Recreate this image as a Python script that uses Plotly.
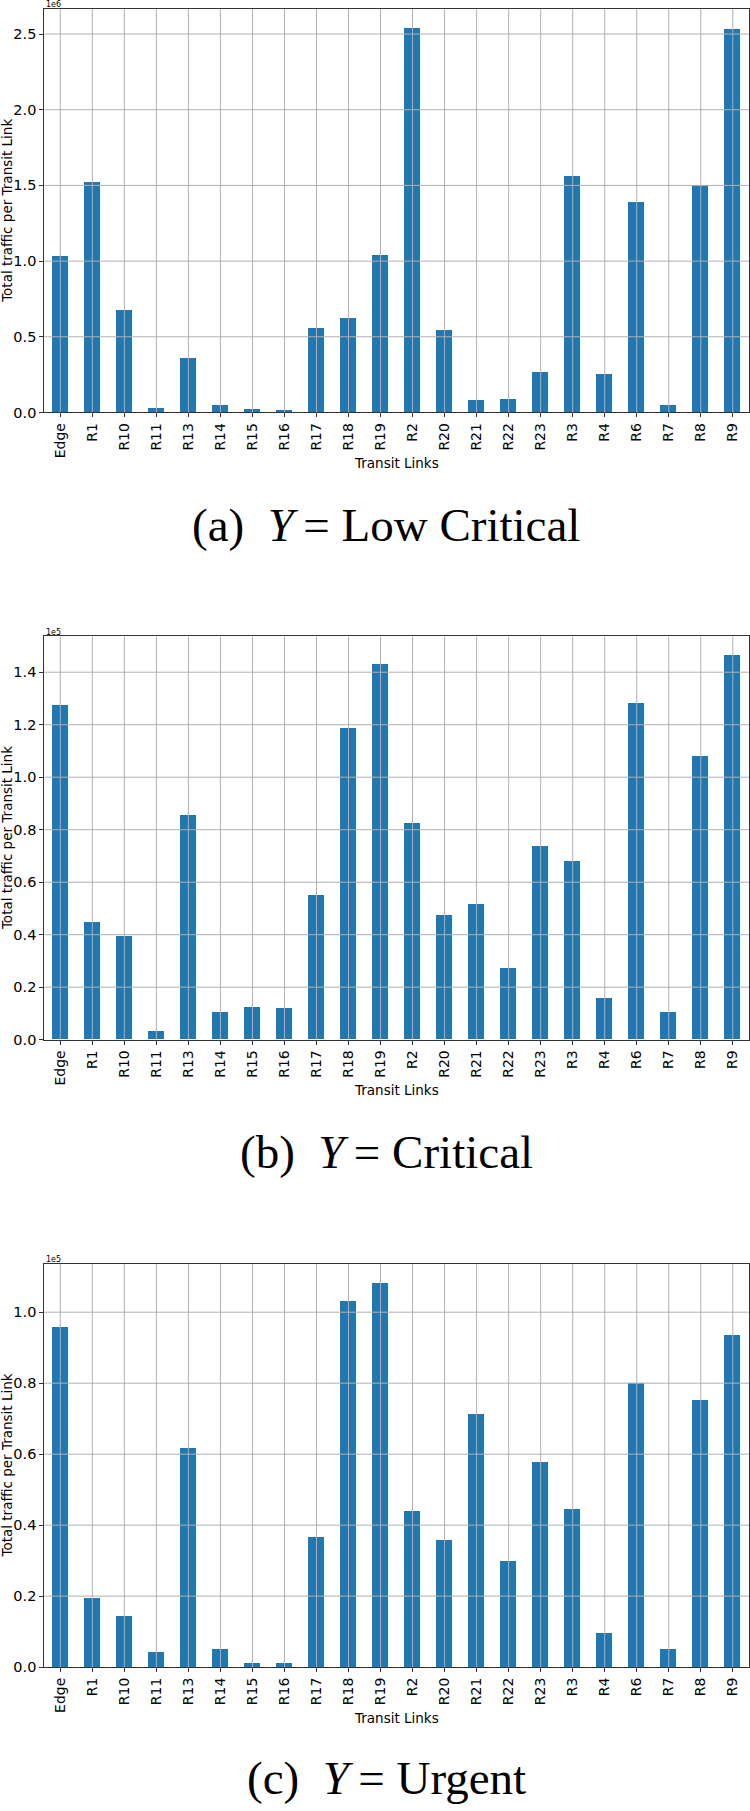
import plotly.graph_objects as go

# ---------------- data ----------------
links = ["Edge", "R1", "R10", "R11", "R13", "R14", "R15", "R16", "R17", "R18", "R19",
         "R2", "R20", "R21", "R22", "R23", "R3", "R4", "R6", "R7", "R8", "R9"]

# (a) Low Critical, in units of 1e6
low_critical = [1.033, 1.524, 0.678, 0.030, 0.355, 0.048, 0.024, 0.017, 0.557, 0.625, 1.039,
                2.537, 0.541, 0.081, 0.090, 0.267, 1.561, 0.252, 1.388, 0.048, 1.500, 2.533]
# (b) Critical, in units of 1e5
critical = [1.272, 0.448, 0.395, 0.030, 0.855, 0.102, 0.121, 0.119, 0.551, 1.184, 1.431,
            0.822, 0.472, 0.517, 0.272, 0.736, 0.680, 0.158, 1.282, 0.102, 1.080, 1.463]
# (c) Urgent, in units of 1e5
urgent = [0.958, 0.195, 0.145, 0.043, 0.619, 0.052, 0.013, 0.012, 0.368, 1.033, 1.082,
          0.439, 0.358, 0.713, 0.300, 0.577, 0.445, 0.095, 0.800, 0.052, 0.754, 0.937]

series = [low_critical, critical, urgent]
multipliers = ["1e6", "1e5", "1e5"]
tick_steps = [0.5, 0.2, 0.2]
captions = ["(a)  <i>Y</i>\u2009= Low Critical", "(b)  <i>Y</i>\u2009= Critical", "(c)  <i>Y</i>\u2009= Urgent"]
x_title = "Transit Links"
y_title = "Total traffic per Transit Link"

# ---------------- layout ----------------
W, H = 750, 1811
ax_left, ax_right = 44.3, 748.8
panel_tops = [9.3, 639.3, 1269.5]
panel_h = 405.0
caption_mid = [527, 1157, 1786]

BAR = "#1f77b4"
GRID = "#b0b0b0"
SPINE = "#333333"
FONT = "DejaVu Sans"


def py(px):
    return 1 - px / H


def pxx(px):
    return px / W


fig = go.Figure()
annotations = []
shapes = []

for i, vals in enumerate(series):
    n = i + 1
    xa = "x" if n == 1 else f"x{n}"
    ya = "y" if n == 1 else f"y{n}"
    top = panel_tops[i]
    bot = top + panel_h
    ymax = max(vals) * 1.05

    fig.add_trace(go.Bar(x=links, y=vals, width=0.5, marker=dict(color=BAR, line=dict(width=0)),
                         xaxis=xa, yaxis=ya, showlegend=False))

    xkey = "xaxis" if n == 1 else f"xaxis{n}"
    ykey = "yaxis" if n == 1 else f"yaxis{n}"
    fig.layout[xkey] = dict(
        domain=[pxx(ax_left), pxx(ax_right)], anchor=ya,
        type="category", categoryorder="array", categoryarray=links,
        range=[-0.5, len(links) - 0.5],
        showgrid=False, showline=True, mirror=True, linecolor=SPINE, linewidth=1,
        ticks="outside", ticklen=4, tickcolor=SPINE, tickangle=-90,
        tickfont=dict(family=FONT, size=14, color="black"),
    )
    fig.layout[ykey] = dict(
        domain=[py(bot), py(top)], anchor=xa,
        range=[0, ymax], dtick=tick_steps[i], tick0=0, tickformat=".1f",
        showgrid=False, zeroline=False, showline=True, mirror=True, linecolor=SPINE, linewidth=1,
        ticks="outside", ticklen=4, tickcolor=SPINE,
        tickfont=dict(family=FONT, size=14.5, color="black"),
    )

    # grid lines drawn above the bars (matplotlib default z-order)
    for c in links:
        shapes.append(dict(type="line", xref=xa, yref=f"{ya} domain", x0=c, x1=c, y0=0, y1=1,
                           line=dict(color=GRID, width=1), layer="above"))
    k = 1
    while k * tick_steps[i] < ymax:
        v = k * tick_steps[i]
        shapes.append(dict(type="line", xref=f"{xa} domain", yref=ya, x0=0, x1=1, y0=v, y1=v,
                           line=dict(color=GRID, width=1), layer="above"))
        k += 1

    # offset text (1e6 / 1e5)
    annotations.append(dict(text=multipliers[i], xref="paper", yref="paper",
                            x=pxx(ax_left), y=py(top - 4.3), xanchor="left", yanchor="middle",
                            showarrow=False, font=dict(family=FONT, size=8, color="black")))
    # y title
    annotations.append(dict(text=y_title, xref="paper", yref="paper", textangle=-90,
                            x=pxx(7), y=py(top + panel_h / 2), xanchor="center", yanchor="middle",
                            showarrow=False, font=dict(family=FONT, size=13.5, color="black")))
    # x title
    annotations.append(dict(text=x_title, xref="paper", yref="paper",
                            x=pxx((ax_left + ax_right) / 2), y=py(bot + 51), xanchor="center",
                            yanchor="middle", showarrow=False,
                            font=dict(family=FONT, size=13.5, color="black")))
    # caption
    annotations.append(dict(text=captions[i], xref="paper", yref="paper",
                            x=pxx(386), y=py(caption_mid[i]), xanchor="center", yanchor="middle",
                            showarrow=False,
                            font=dict(family="Liberation Serif", size=47, color="black")))

fig.update_layout(
    width=W, height=H, margin=dict(l=0, r=0, t=0, b=0),
    paper_bgcolor="white", plot_bgcolor="white",
    bargap=0, annotations=annotations, shapes=shapes,
)

fig.write_html("out.html", config={"displayModeBar": False},
               post_script="document.body.style.margin='0';")
